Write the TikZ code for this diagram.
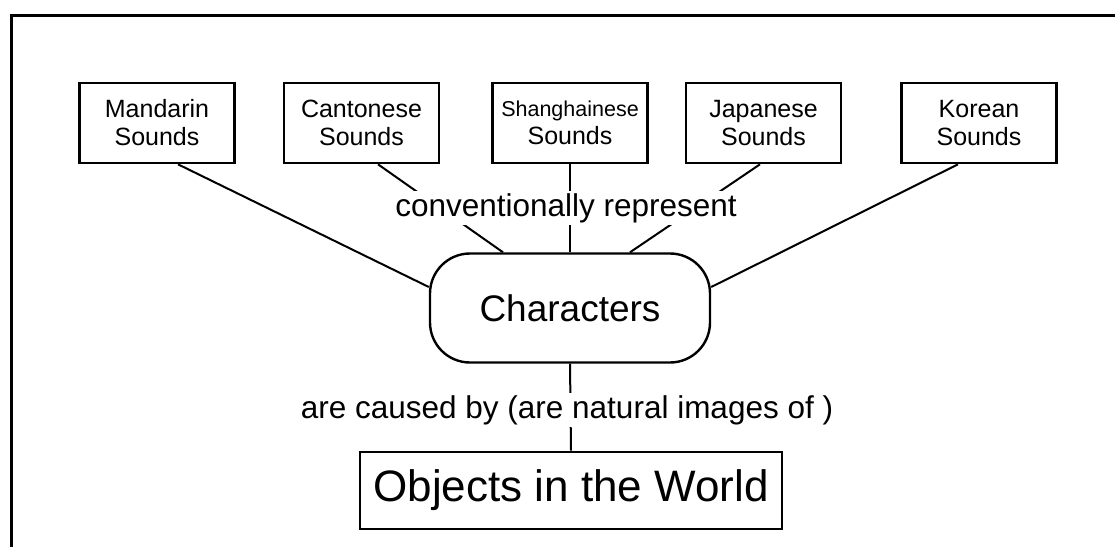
\documentclass[tikz,border=0pt]{standalone}
\usepackage{fontspec}
\setmainfont{Liberation Sans}
\usetikzlibrary{calc}
\begin{document}
\begin{tikzpicture}[x=1pt,y=-1pt,
  sbox/.style={draw,line width=2.6pt,minimum width=155pt,minimum height=80pt,inner sep=0pt,align=center,font=\fontsize{25}{28}\selectfont},
  charbox/.style={draw,line width=2.4pt,rounded corners=40pt,minimum width=280pt,minimum height=109pt,inner sep=0pt,font=\fontsize{37}{40}\selectfont},
  objbox/.style={draw,line width=2.6pt,minimum width=422pt,minimum height=77pt,inner sep=0pt,font=\fontsize{44}{48}\selectfont},
  lbl/.style={fill=white,inner sep=2pt,font=\fontsize{31.5}{34}\selectfont},
  conn/.style={line width=2pt}]
\useasboundingbox (0,0) rectangle (1115,546);
\draw[line width=3pt] (11,548) -- (11,15) -- (1117,15);
\node[sbox] (mand) at (157,123) {Mandarin\\Sounds};
\node[sbox] (cant) at (361.5,123) {Cantonese\\Sounds};
\node[sbox,font=\fontsize{21.5}{28}\selectfont] (shan) at (570,123) {Shanghainese\\\fontsize{25}{28}\selectfont Sounds};
\node[sbox] (japa) at (763.5,123) {Japanese\\Sounds};
\node[sbox] (kore) at (979,123) {Korean\\Sounds};
\node[charbox] (char) at (570,308) {Characters};
\node[objbox] (obj) at (571,490.5) {Objects in the World};
\draw[conn] ($(mand.south)+(21,0)$) -- ($(char.west)+(0,-21)$);
\draw[conn] ($(cant.south)+(16.5,0)$) -- ($(char.north)+(-67,0)$);
\draw[conn] (shan.south) -- (char.north);
\draw[conn] ($(japa.south)+(-3.5,0)$) -- ($(char.north)+(60,0)$);
\draw[conn] ($(kore.south)+(-21,0)$) -- ($(char.east)+(0,-21)$);
\draw[conn] (char.south) -- (obj.north);
\node[lbl] (conv) at (566,208) {conventionally represent};
\node[lbl] (caus) at (567,410) {are caused by (are natural images of )};
\end{tikzpicture}
\end{document}
